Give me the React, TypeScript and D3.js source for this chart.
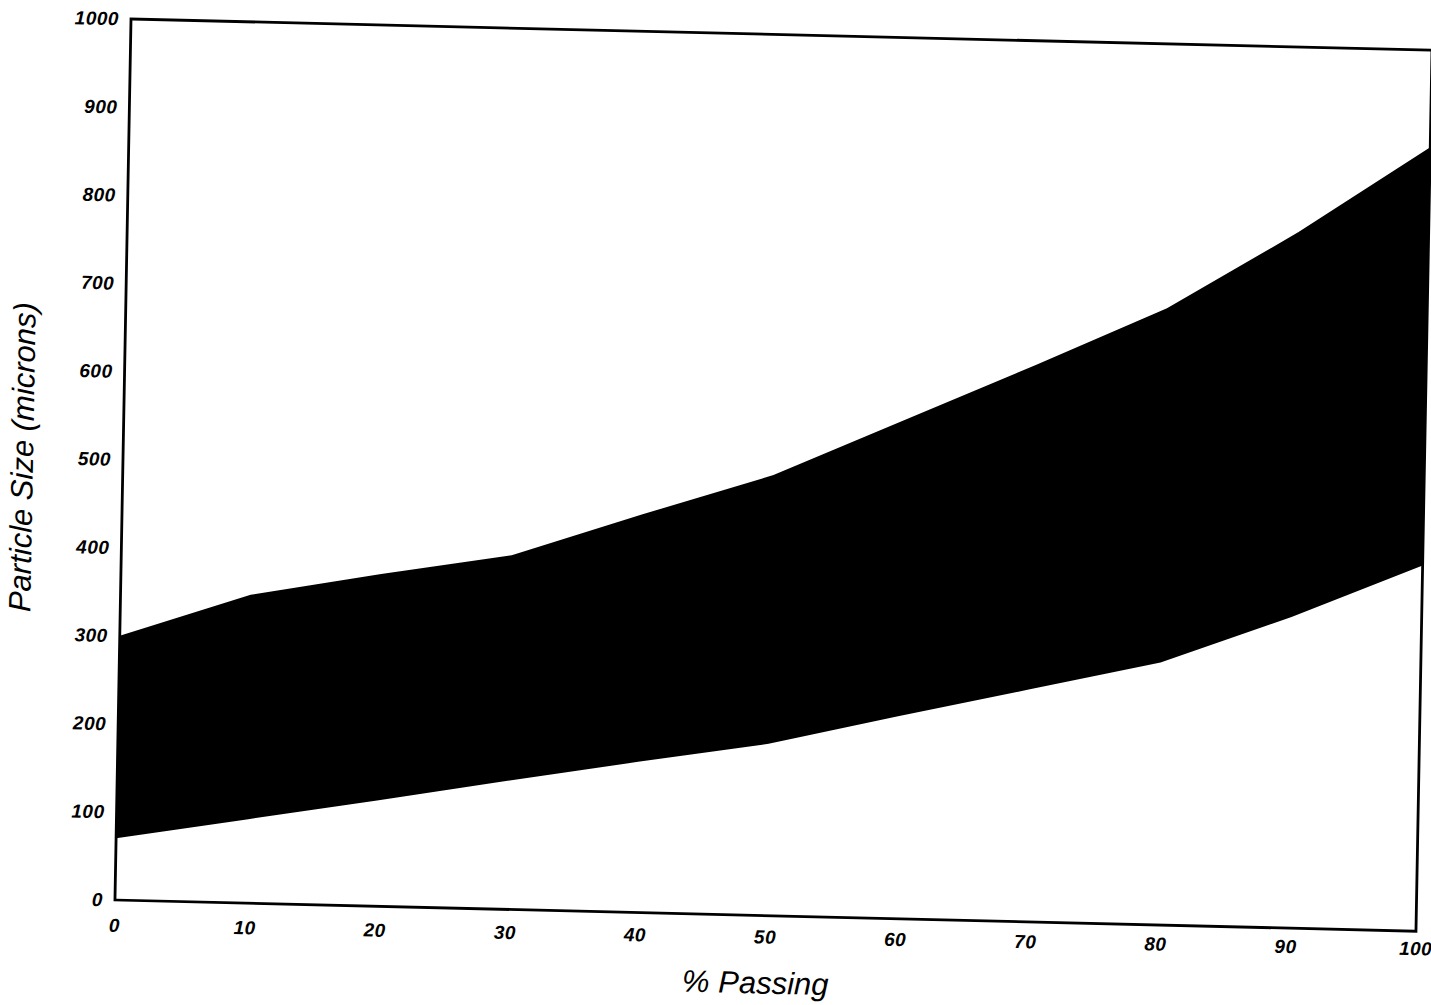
import { useEffect, useRef } from "react";
import * as d3 from "d3";

// % passing at which the band edges are read
const passing = [0, 10, 20, 30, 40, 50, 60, 70, 80, 90, 100];
// upper edge of the particle size band (microns)
const upperSize = [300, 350, 377, 402, 452, 500, 566, 632, 700, 790, 890];
// lower edge of the particle size band (microns)
const lowerSize = [70, 95, 120, 146, 171, 195, 230, 264, 298, 353, 415];

const xTicks = [0, 10, 20, 30, 40, 50, 60, 70, 80, 90, 100];
const yTicks = [0, 100, 200, 300, 400, 500, 600, 700, 800, 900, 1000];

export default function App() {
  const ref = useRef<SVGSVGElement | null>(null);

  useEffect(() => {
    const width = 1431;
    const height = 1005;
    const w = 1301;
    const h = 881;

    const svg = d3.select(ref.current);
    svg.selectAll("*").remove();
    svg.attr("viewBox", `0 0 ${width} ${height}`);

    svg
      .append("rect")
      .attr("width", width)
      .attr("height", height)
      .attr("fill", "#fff");

    // scanned page is slightly skewed, so the plot sits in a tilted frame
    const g = svg
      .append("g")
      .attr("transform", "matrix(1,0.024,-0.0182,1,131,19)");

    const x = d3.scaleLinear().domain([0, 100]).range([0, w]);
    const y = d3.scaleLinear().domain([0, 1000]).range([h, 0]);

    const rows = passing.map((p, i) => ({
      p,
      lo: lowerSize[i],
      hi: upperSize[i],
    }));

    const area = d3
      .area<{ p: number; lo: number; hi: number }>()
      .x((d) => x(d.p))
      .y0((d) => y(d.lo))
      .y1((d) => y(d.hi));

    g.append("path").datum(rows).attr("d", area).attr("fill", "#000");

    g.append("rect")
      .attr("x", 0)
      .attr("y", 0)
      .attr("width", w)
      .attr("height", h)
      .attr("fill", "none")
      .attr("stroke", "#000")
      .attr("stroke-width", 2.8);

    const font = "'Liberation Sans', Arial, sans-serif";

    g.append("g")
      .selectAll("text")
      .data(yTicks)
      .join("text")
      .attr("x", -12)
      .attr("y", (d) => y(d))
      .attr("dy", "0.35em")
      .attr("text-anchor", "end")
      .attr("font-family", font)
      .attr("font-style", "italic")
      .attr("font-weight", "bold")
      .attr("font-size", 19)
      .attr("letter-spacing", 0.5)
      .attr("fill", "#000")
      .text((d) => d);

    g.append("g")
      .selectAll("text")
      .data(xTicks)
      .join("text")
      .attr("x", (d) => x(d))
      .attr("y", (d) => h + 32 - d * 0.08)
      .attr("text-anchor", "middle")
      .attr("font-family", font)
      .attr("font-style", "italic")
      .attr("font-weight", "bold")
      .attr("font-size", 19)
      .attr("letter-spacing", 0.5)
      .attr("fill", "#000")
      .text((d) => d);

    g.append("text")
      .attr("x", w / 2 - 9)
      .attr("y", h + 78)
      .attr("text-anchor", "middle")
      .attr("font-family", font)
      .attr("font-style", "italic")
      .attr("font-size", 31)
      .attr("fill", "#000")
      .text("% Passing");

    g.append("text")
      .attr("transform", `translate(-90,${h / 2}) rotate(-90)`)
      .attr("text-anchor", "middle")
      .attr("font-family", font)
      .attr("font-style", "italic")
      .attr("font-size", 31)
      .attr("fill", "#000")
      .text("Particle Size (microns)");
  }, []);

  return (
    <svg
      ref={ref}
      width={1431}
      height={1005}
      style={{ position: "absolute", left: 0, top: 0, display: "block" }}
    />
  );
}
